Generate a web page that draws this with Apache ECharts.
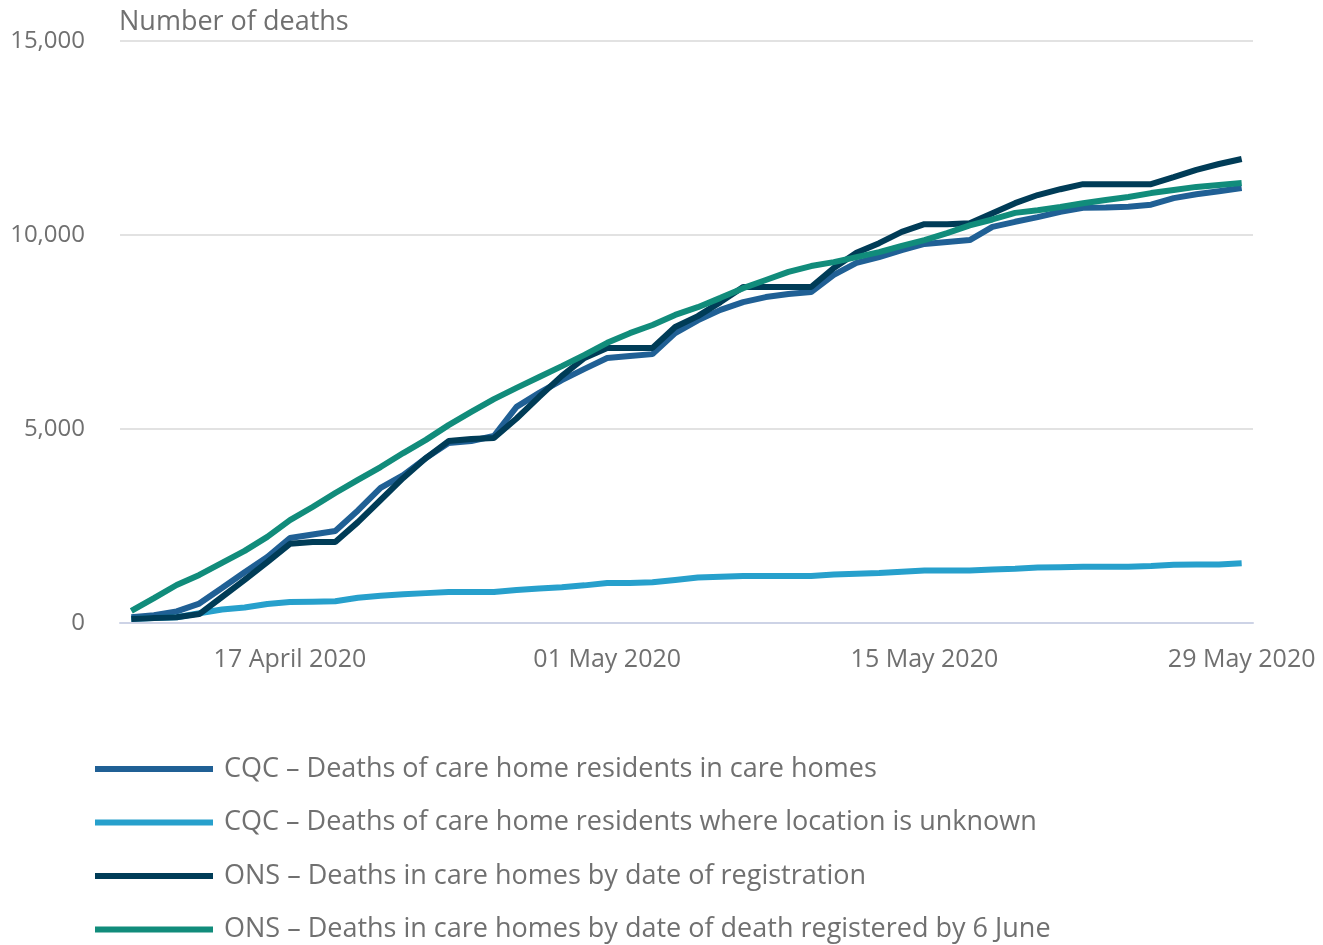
<!DOCTYPE html>
<html>
<head>
<meta charset="utf-8">
<script src="https://cdn.jsdelivr.net/npm/echarts@6/dist/echarts.min.js"></script>
<style>
  html, body { margin: 0; padding: 0; background: #fff; }
  #chart { width: 1323px; height: 945px; }
</style>
</head>
<body>
<div id="chart"></div>
<script>
var dates = [
  '10 April 2020', '11 April 2020', '12 April 2020', '13 April 2020', '14 April 2020',
  '15 April 2020', '16 April 2020', '17 April 2020', '18 April 2020', '19 April 2020',
  '20 April 2020', '21 April 2020', '22 April 2020', '23 April 2020', '24 April 2020',
  '25 April 2020', '26 April 2020', '27 April 2020', '28 April 2020', '29 April 2020',
  '30 April 2020', '01 May 2020', '02 May 2020', '03 May 2020', '04 May 2020',
  '05 May 2020', '06 May 2020', '07 May 2020', '08 May 2020', '09 May 2020',
  '10 May 2020', '11 May 2020', '12 May 2020', '13 May 2020', '14 May 2020',
  '15 May 2020', '16 May 2020', '17 May 2020', '18 May 2020', '19 May 2020',
  '20 May 2020', '21 May 2020', '22 May 2020', '23 May 2020', '24 May 2020',
  '25 May 2020', '26 May 2020', '27 May 2020', '28 May 2020', '29 May 2020'
];

var cqcCareHomes = [150, 200, 300, 500, 900, 1310, 1700, 2190, 2280, 2370,
  2900, 3480, 3810, 4250, 4640, 4690, 4820, 5570, 5930, 6260,
  6550, 6830, 6880, 6930, 7470, 7800, 8070, 8270, 8400, 8480,
  8530, 8970, 9280, 9430, 9610, 9770, 9820, 9870, 10210, 10340,
  10460, 10600, 10700, 10710, 10730, 10780, 10950, 11050, 11130, 11210];

var cqcUnknown = [100, 130, 150, 250, 350, 400, 490, 540, 550, 560,
  650, 700, 740, 770, 800, 800, 800, 850, 890, 920,
  970, 1030, 1030, 1050, 1110, 1170, 1190, 1210, 1210, 1210,
  1210, 1250, 1270, 1290, 1320, 1350, 1350, 1350, 1380, 1400,
  1430, 1440, 1450, 1450, 1450, 1470, 1500, 1510, 1510, 1540];

var onsRegistration = [100, 130, 150, 230, 670, 1110, 1570, 2040, 2090, 2090,
  2600, 3170, 3740, 4250, 4690, 4740, 4770, 5270, 5830, 6370,
  6830, 7090, 7090, 7090, 7630, 7910, 8270, 8660, 8660, 8660,
  8660, 9150, 9540, 9790, 10080, 10280, 10280, 10300, 10560, 10820,
  11030, 11180, 11310, 11310, 11310, 11310, 11490, 11680, 11830, 11960];

var onsDeath = [310, 640, 980, 1240, 1550, 1860, 2220, 2650, 2990, 3350,
  3690, 4020, 4380, 4720, 5100, 5440, 5770, 6060, 6340, 6620,
  6910, 7220, 7470, 7680, 7940, 8140, 8380, 8630, 8840, 9050,
  9200, 9300, 9430, 9560, 9720, 9870, 10050, 10250, 10400, 10570,
  10640, 10720, 10820, 10900, 10980, 11080, 11160, 11240, 11290, 11340];

var seriesNames = [
  'CQC \u2013 Deaths of care home residents in care homes',
  'CQC \u2013 Deaths of care home residents where location is unknown',
  'ONS \u2013 Deaths in care homes by date of registration',
  'ONS \u2013 Deaths in care homes by date of death registered by 6 June'
];
var seriesData = [cqcCareHomes, cqcUnknown, onsRegistration, onsDeath];
var colors = ['#206095', '#27a0cc', '#003c57', '#118c7b'];

var yTicks = [0, 5000, 10000, 15000];

var myChart = echarts.init(document.getElementById('chart'));

// tick + label only every fortnight, from 17 April
function showDay(i) {
  return i >= 7 && (i - 7) % 14 === 0;
}

var option = {
  animation: false,
  textStyle: { fontFamily: 'Open Sans' },
  color: colors,
  title: {
    text: 'Number of deaths',
    left: 119,
    top: 9,
    padding: 0,
    textStyle: { fontSize: 27, fontWeight: 'normal', color: '#707070', fontFamily: 'Open Sans' }
  },
  grid: { left: 120, right: 70, top: 41, bottom: 322, containLabel: false },
  xAxis: {
    type: 'category',
    data: dates,
    boundaryGap: true,
    axisLine: { lineStyle: { color: '#cdd3e6', width: 2 } },
    axisTick: {
      alignWithLabel: true,
      length: 20,
      interval: function (i) { return showDay(i); },
      lineStyle: { color: '#cdd3e6', width: 2 }
    },
    axisLabel: {
      interval: function (i) { return showDay(i); },
      fontSize: 25,
      color: '#707070',
      margin: 24,
      fontFamily: 'Open Sans'
    },
    splitLine: { show: false }
  },
  yAxis: {
    type: 'value',
    min: yTicks[0],
    max: yTicks[yTicks.length - 1],
    interval: 5000,
    axisLine: { show: false },
    axisTick: { show: false },
    axisLabel: {
      fontSize: 24,
      color: '#707070',
      margin: 35,
      fontFamily: 'Open Sans',
      formatter: function (v) { return v.toLocaleString('en-GB'); }
    },
    splitLine: { lineStyle: { color: '#e2e2e2', width: 2 } }
  },
  legend: {
    orient: 'vertical',
    left: 95,
    top: 753,
    height: 200,
    padding: 0,
    icon: 'rect',
    itemWidth: 118,
    itemHeight: 6,
    itemGap: 21.5,
    data: seriesNames,
    textStyle: { fontSize: 27, color: '#707070', lineHeight: 32, fontFamily: 'Open Sans', padding: [0, 0, 0, 6] }
  },
  series: seriesNames.map(function (name, k) {
    return {
      name: name,
      type: 'line',
      data: seriesData[k],
      showSymbol: false,
      symbol: 'none',
      lineStyle: { width: 6, color: colors[k] },
      itemStyle: { color: colors[k] }
    };
  })
};

myChart.setOption(option);
window.addEventListener('resize', function () {
  myChart.resize();
});
</script>
</body>
</html>
